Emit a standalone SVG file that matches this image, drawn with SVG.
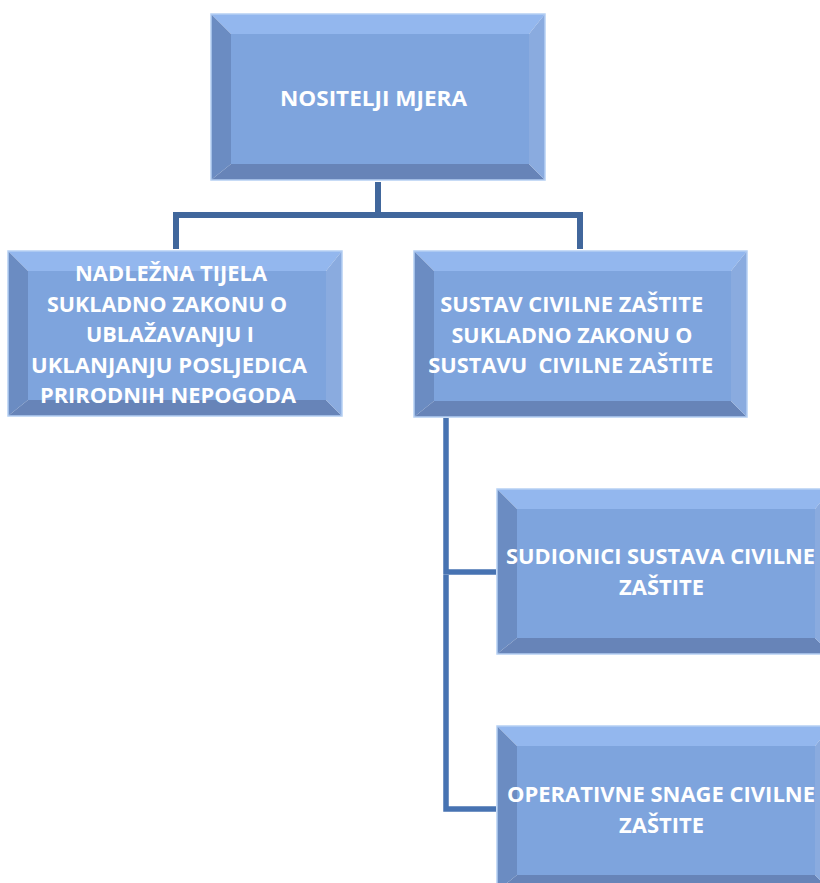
<svg xmlns="http://www.w3.org/2000/svg" width="820" height="883" viewBox="0 0 820 883">
<style>
.face{fill:#7ea4dd}
.bt{fill:#93b7ee}
.bl{fill:#6b8cc2}
.bb{fill:#6784b8}
.br{fill:#8aabdf}
.edge{fill:none;stroke:#b5cff3;stroke-width:1.5}
.lbl{font-family:"Open Sans",Lato,"DejaVu Sans",sans-serif;font-weight:bold;font-size:20.5px;fill:#ffffff;text-anchor:middle}
.c1{fill:none;stroke:#41679c;stroke-width:6;stroke-linejoin:miter}
.c2{fill:none;stroke:#4773b2;stroke-width:5.5;stroke-linejoin:miter}
</style>
<rect width="820" height="883" fill="#ffffff"/>
<g id="connectors">
<polyline class="c1" points="378,182 378,215"/>
<polyline class="c1" points="176,249 176,215 580,215 580,249"/>
<polyline class="c2" points="446,418 446,572 496,572"/>
<polyline class="c2" points="446,575 446,809 496,809"/>
</g>
<g id="n-nositelji">
<polygon class="bt" points="211,14 545,14 529,34 231,34"/>
<polygon class="bl" points="211,14 231,34 231,164 211,180"/>
<polygon class="bb" points="211,180 231,164 529,164 545,180"/>
<polygon class="br" points="545,14 545,180 529,164 529,34"/>
<rect class="face" x="231" y="34" width="298" height="130"/>
<rect class="edge" x="211" y="14" width="334" height="166"/>
<text class="lbl" x="373.5" y="106" textLength="187" lengthAdjust="spacingAndGlyphs">NOSITELJI MJERA</text>
</g>
<g id="n-nadlezna">
<polygon class="bt" points="8,251 342,251 326,271 28,271"/>
<polygon class="bl" points="8,251 28,271 28,400 8,416"/>
<polygon class="bb" points="8,416 28,400 326,400 342,416"/>
<polygon class="br" points="342,251 342,416 326,400 326,271"/>
<rect class="face" x="28" y="271" width="298" height="129"/>
<rect class="edge" x="8" y="251" width="334" height="165"/>
<text class="lbl" x="171" y="281" textLength="192" lengthAdjust="spacingAndGlyphs">NADLEŽNA TIJELA</text>
<text class="lbl" x="167" y="312" textLength="240" lengthAdjust="spacingAndGlyphs">SUKLADNO ZAKONU O</text>
<text class="lbl" x="170" y="342" textLength="168" lengthAdjust="spacingAndGlyphs">UBLAŽAVANJU I</text>
<text class="lbl" x="169" y="373" textLength="276" lengthAdjust="spacingAndGlyphs">UKLANJANJU POSLJEDICA</text>
<text class="lbl" x="168" y="403" textLength="256" lengthAdjust="spacingAndGlyphs">PRIRODNIH NEPOGODA</text>
</g>
<g id="n-sustav">
<polygon class="bt" points="414,251 747,251 731,271 434,271"/>
<polygon class="bl" points="414,251 434,271 434,401 414,417"/>
<polygon class="bb" points="414,417 434,401 731,401 747,417"/>
<polygon class="br" points="747,251 747,417 731,401 731,271"/>
<rect class="face" x="434" y="271" width="297" height="130"/>
<rect class="edge" x="414" y="251" width="333" height="166"/>
<text class="lbl" x="571.7" y="312" textLength="263" lengthAdjust="spacingAndGlyphs">SUSTAV CIVILNE ZAŠTITE</text>
<text class="lbl" x="572" y="343" textLength="241" lengthAdjust="spacingAndGlyphs">SUKLADNO ZAKONU O</text>
<text class="lbl" x="570.8" y="373" textLength="285" lengthAdjust="spacingAndGlyphs" xml:space="preserve">SUSTAVU  CIVILNE ZAŠTITE</text>
</g>
<g id="n-sudionici">
<polygon class="bt" points="497,489 831,489 815,509 517,509"/>
<polygon class="bl" points="497,489 517,509 517,638 497,654"/>
<polygon class="bb" points="497,654 517,638 815,638 831,654"/>
<polygon class="br" points="831,489 831,654 815,638 815,509"/>
<rect class="face" x="517" y="509" width="298" height="129"/>
<rect class="edge" x="497" y="489" width="334" height="165"/>
<text class="lbl" x="660.5" y="564" textLength="309" lengthAdjust="spacingAndGlyphs">SUDIONICI SUSTAVA CIVILNE</text>
<text class="lbl" x="661.5" y="595" textLength="85" lengthAdjust="spacingAndGlyphs">ZAŠTITE</text>
</g>
<g id="n-operativne">
<polygon class="bt" points="497,726 831,726 815,746 517,746"/>
<polygon class="bl" points="497,726 517,746 517,875 497,891"/>
<polygon class="bb" points="497,891 517,875 815,875 831,891"/>
<polygon class="br" points="831,726 831,891 815,875 815,746"/>
<rect class="face" x="517" y="746" width="298" height="129"/>
<rect class="edge" x="497" y="726" width="334" height="165"/>
<text class="lbl" x="661" y="802" textLength="308" lengthAdjust="spacingAndGlyphs">OPERATIVNE SNAGE CIVILNE</text>
<text class="lbl" x="661.5" y="833" textLength="85" lengthAdjust="spacingAndGlyphs">ZAŠTITE</text>
</g>
</svg>
